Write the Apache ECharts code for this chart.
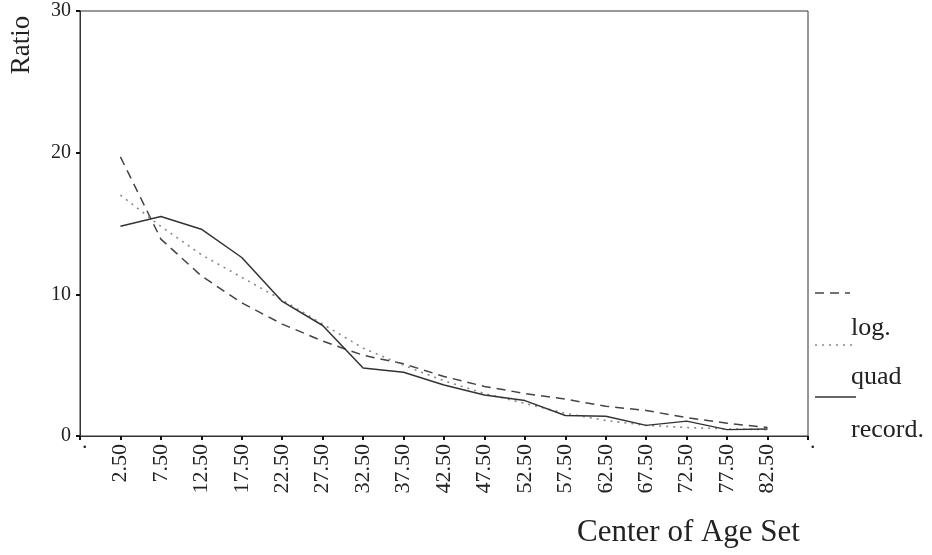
<!DOCTYPE html>
<html>
<head>
<meta charset="utf-8">
<script src="https://cdn.jsdelivr.net/npm/echarts@6/dist/echarts.min.js"></script>
<style>
html,body{margin:0;padding:0;background:#fff;}
#chart{width:932px;height:555px;}
</style>
</head>
<body>
<div id="chart"></div>
<script>
const categories = ['2.50','7.50','12.50','17.50','22.50','27.50','32.50','37.50','42.50','47.50','52.50','57.50','62.50','67.50','72.50','77.50','82.50'];
const logValues = [19.7, 13.9, 11.3, 9.4, 7.9, 6.7, 5.7, 5.1, 4.2, 3.5, 3.0, 2.6, 2.1, 1.8, 1.3, 0.9, 0.6];
const quadValues = [17.0, 14.8, 12.8, 11.2, 9.6, 7.9, 6.2, 5.0, 3.9, 3.0, 2.3, 1.6, 1.1, 0.75, 0.6, 0.5, 0.45];
const recordValues = [14.8, 15.5, 14.6, 12.6, 9.5, 7.8, 4.8, 4.5, 3.6, 2.9, 2.5, 1.45, 1.4, 0.75, 1.05, 0.45, 0.5];
const yTicks = [0, 10, 20, 30];

const axisCats = ['.'].concat(categories, ['.']);
const pad = arr => [null].concat(arr, [null]);
const serif = 'Liberation Serif';
const ink = '#222';

const chart = echarts.init(document.getElementById('chart'));
chart.setOption({
  animation: false,
  backgroundColor: '#fff',
  grid: { left: 80, right: 124, top: 11, bottom: 119, show: true, borderColor: '#333', borderWidth: 1 },
  xAxis: {
    type: 'category',
    data: axisCats,
    boundaryGap: false,
    axisLine: { lineStyle: { color: '#333', width: 1 } },
    axisTick: { show: true, interval: 0, length: 4, lineStyle: { color: '#111', width: 2 } },
    axisLabel: { interval: 0, rotate: 90, fontFamily: serif, fontSize: 22, color: ink, margin: 8 },
    splitLine: { show: false }
  },
  yAxis: {
    type: 'value',
    min: yTicks[0], max: yTicks[yTicks.length - 1], interval: 10,
    axisLine: { show: true, lineStyle: { color: '#333', width: 1 } },
    axisTick: { show: true, length: 4, lineStyle: { color: '#111', width: 2 } },
    axisLabel: { fontFamily: serif, fontSize: 20, color: ink, margin: 9 },
    splitLine: { show: false }
  },
  series: [
    { name: 'log.', type: 'line', data: pad(logValues), symbol: 'none',
      lineStyle: { color: '#444', width: 1.5, type: [9, 6] } },
    { name: 'quad', type: 'line', data: pad(quadValues), symbol: 'none',
      lineStyle: { color: '#888', width: 1.6, type: [2, 5] } },
    { name: 'record.', type: 'line', data: pad(recordValues), symbol: 'none',
      lineStyle: { color: '#333', width: 1.5, type: 'solid' } }
  ],
  graphic: [
    { type: 'text', x: 22, y: 45, rotation: Math.PI / 2,
      style: { text: 'Ratio', font: '27px "Liberation Serif"', fill: ink, textAlign: 'center', textVerticalAlign: 'middle' } },
    { type: 'text', x: 577, y: 533,
      style: { text: 'Center of Age Set', font: '31px "Liberation Serif"', fill: ink, textAlign: 'left', textVerticalAlign: 'middle' } },
    { type: 'line', shape: { x1: 815, y1: 293, x2: 850, y2: 293 }, style: { stroke: '#444', lineWidth: 1.5, lineDash: [9, 6] } },
    { type: 'text', x: 851, y: 328, style: { text: 'log.', font: '26px "Liberation Serif"', fill: ink, textAlign: 'left', textVerticalAlign: 'middle' } },
    { type: 'line', shape: { x1: 815, y1: 345, x2: 852, y2: 345 }, style: { stroke: '#888', lineWidth: 1.6, lineDash: [2, 5] } },
    { type: 'text', x: 851, y: 377, style: { text: 'quad', font: '26px "Liberation Serif"', fill: ink, textAlign: 'left', textVerticalAlign: 'middle' } },
    { type: 'line', shape: { x1: 815, y1: 397, x2: 856, y2: 397 }, style: { stroke: '#333', lineWidth: 1.5 } },
    { type: 'text', x: 851, y: 430, style: { text: 'record.', font: '26px "Liberation Serif"', fill: ink, textAlign: 'left', textVerticalAlign: 'middle' } }
  ]
});
</script>
</body>
</html>
